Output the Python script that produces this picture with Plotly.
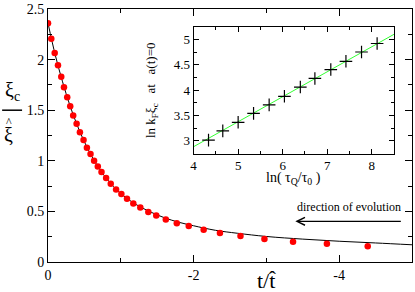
import plotly.graph_objects as go

# ---------------- data ----------------
# main panel: simulation points (red) and theory curve (black)
t_points = [0.0, -0.045, -0.092, -0.137, -0.182, -0.219, -0.264, -0.305, -0.346, -0.393,
            -0.438, -0.488, -0.534, -0.584, -0.633, -0.684, -0.735, -0.798, -0.862, -0.935,
            -1.008, -1.085, -1.172, -1.268, -1.378, -1.487, -1.618, -1.769, -1.933, -2.138,
            -2.362, -2.644, -2.973, -3.366, -3.831, -4.392]
xi_points = [2.359, 2.205, 2.065, 1.945, 1.831, 1.726, 1.629, 1.538, 1.447, 1.365,
             1.283, 1.205, 1.130, 1.066, 1.000, 0.944, 0.890, 0.831, 0.772, 0.717,
             0.671, 0.626, 0.577, 0.538, 0.495, 0.459, 0.420, 0.384, 0.355, 0.319,
             0.286, 0.257, 0.228, 0.201, 0.179, 0.156]

t_curve = [0.0, -0.1, -0.2, -0.3, -0.4, -0.5, -0.6, -0.7, -0.8, -0.9, -1.0, -1.2, -1.4,
           -1.6, -1.8, -2.0, -2.3, -2.6, -3.0, -3.5, -4.0, -4.5, -5.0]
xi_curve = [2.36, 2.044, 1.78, 1.549, 1.353, 1.187, 1.045, 0.927, 0.829, 0.745, 0.676,
            0.572, 0.497, 0.437, 0.392, 0.358, 0.313, 0.284, 0.252, 0.226, 0.205, 0.188, 0.170]

x_tickvals = [0, -2, -4]
x_ticktext = ["0", "-2", "-4"]
x_minor = [-1, -3, -5]
y_tickvals = [0, 0.5, 1, 1.5, 2, 2.5]
y_ticktext = ["0", "0.5", "1", "1.5", "2", "2.5"]
y_minor = [0.25, 0.75, 1.25, 1.75, 2.25]

# inset: ln k_F xi_c vs ln(tau_Q/tau_0)
ln_tau = [4.335, 4.655, 5.0, 5.346, 5.696, 6.039, 6.396, 6.723, 7.08, 7.42, 7.77, 8.12]
ln_kxi = [3.016, 3.197, 3.367, 3.543, 3.711, 3.88, 4.062, 4.232, 4.408, 4.57, 4.754, 4.922]
fit_x = [3.9, 8.6]
fit_y = [2.836, 5.153]

in_x_tickvals = [4, 5, 6, 7, 8]
in_x_minor = [4.5, 5.5, 6.5, 7.5]
in_y_tickvals = [3, 3.5, 4, 4.5, 5]
in_y_ticktext = ["3", "3.5", "4", "4.5", "5"]
in_y_minor = [3.25, 3.75, 4.25, 4.75]

FONT = "Liberation Serif"

# plot-area geometry (pixels) for placing text
W, H = 415, 292
L, R, T, B = 48, 2, 7, 30
PW, PH = W - L - R, H - T - B


def px(x):
    return (x - L) / PW


def py(y):
    return (H - B - y) / PH


fig = go.Figure()

fig.add_trace(go.Scatter(x=t_curve, y=xi_curve, mode="lines", line=dict(color="black", width=1, shape="spline"),
                         showlegend=False, xaxis="x", yaxis="y"))
fig.add_trace(go.Scatter(x=t_points, y=xi_points, mode="markers",
                         marker=dict(color="#ff0000", size=6.5, line=dict(width=0)),
                         showlegend=False, xaxis="x", yaxis="y"))

fig.add_trace(go.Scatter(x=fit_x, y=fit_y, mode="lines", line=dict(color="#33ff33", width=1),
                         showlegend=False, xaxis="x2", yaxis="y2"))
fig.add_trace(go.Scatter(x=ln_tau, y=ln_kxi, mode="markers",
                         marker=dict(symbol="cross-thin", size=9, color="black",
                                     line=dict(color="black", width=1.2)),
                         showlegend=False, xaxis="x2", yaxis="y2"))

axis_common = dict(showline=True, linecolor="black", linewidth=1, mirror="ticks",
                   ticks="inside", tickcolor="black", ticklen=7, tickwidth=1,
                   showgrid=False, zeroline=False)

fig.update_layout(
    width=W, height=H,
    margin=dict(l=L, r=R, t=T, b=B),
    paper_bgcolor="white", plot_bgcolor="white",
    font=dict(family=FONT, color="black", size=14),
    xaxis=dict(domain=[0, 1], range=[0.0002, -5.0002], tickmode="array", tickvals=x_tickvals, ticktext=x_ticktext,
               minor=dict(tickvals=x_minor, ticks="inside", ticklen=4, tickcolor="black"),
               tickfont=dict(size=14, family=FONT), ticklabeloverflow="allow", **axis_common),
    yaxis=dict(domain=[0, 1], range=[-0.0002, 2.5002], tickmode="array", tickvals=y_tickvals, ticktext=y_ticktext,
               minor=dict(tickvals=y_minor, ticks="inside", ticklen=4, tickcolor="black"),
               tickfont=dict(size=14, family=FONT), ticklabeloverflow="allow", **axis_common),
    xaxis2=dict(domain=[px(194), px(395)], anchor="y2", range=[4, 8.5], tickmode="array",
                tickvals=in_x_tickvals, ticktext=[str(v) for v in in_x_tickvals],
                minor=dict(tickvals=in_x_minor, ticks="inside", ticklen=3, tickcolor="black"),
                tickfont=dict(size=13, family=FONT), **{**axis_common, "ticklen": 5}),
    yaxis2=dict(domain=[py(152.7), py(25)], anchor="x2", range=[2.75, 5.25], tickmode="array",
                tickvals=in_y_tickvals, ticktext=in_y_ticktext,
                minor=dict(tickvals=in_y_minor, ticks="inside", ticklen=3, tickcolor="black"),
                tickfont=dict(size=13, family=FONT), **{**axis_common, "ticklen": 5}),
)

NB = "\u00a0"
ann = [
    # y-axis title as a fraction xi_c / xi-hat
    dict(x=px(12), y=py(90), text="ξ<sub>c</sub>", font=dict(size=20)),
    dict(x=px(8.5), y=py(121), text="^", font=dict(size=12)),
    dict(x=px(8.5), y=py(134), text="ξ", font=dict(size=20)),
    # x-axis title t / t-hat
    dict(x=px(267), y=py(281), text="t/t\u0302", font=dict(size=22)),
    # inset titles
    dict(x=px(152), y=py(89), text="ln" + NB + "k<sub>F</sub>ξ<sub>c</sub>" + NB * 3 + "at" + NB * 3 + "a(t)=0",
         textangle=-90, font=dict(size=13)),
    dict(x=px(294), y=py(178), text="ln(" + NB + "τ<sub>Q</sub>/τ<sub>0</sub>" + NB + ")", font=dict(size=14)),
    # direction of evolution
    dict(x=px(350), y=py(207), text="direction of evolution", font=dict(size=12)),
]
annotations = []
for a in ann:
    d = dict(xref="paper", yref="paper", showarrow=False, xanchor="center", yanchor="middle",
             font=dict(family=FONT, color="black", size=a["font"]["size"]))
    d.update({k: v for k, v in a.items() if k != "font"})
    annotations.append(d)

# arrow pointing left
annotations.append(dict(xref="paper", yref="paper", x=px(296), y=py(221), ax=107, ay=0,
                        axref="pixel", ayref="pixel", showarrow=True, arrowhead=5, arrowsize=1.2,
                        arrowwidth=1.3, arrowcolor="black", text=""))

fig.update_layout(annotations=annotations)

# fraction bar of y title
fig.add_shape(type="line", xref="paper", yref="paper", x0=px(2), x1=px(22), y0=py(109), y1=py(109),
              line=dict(color="black", width=1.5))

fig.write_html("out.html", config={"displayModeBar": False},
               post_script="document.body.style.margin='0';")
